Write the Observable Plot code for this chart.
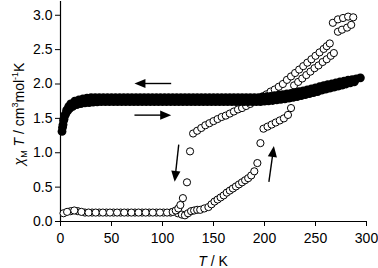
<!DOCTYPE html>
<html>
<head>
<meta charset="utf-8">
<script src="https://cdn.jsdelivr.net/npm/d3@7"></script>
<script src="https://cdn.jsdelivr.net/npm/@observablehq/plot@0.6"></script>
<style>
  html, body { margin: 0; padding: 0; background: #fff; }
  #chart svg { display: block; }
</style>
</head>
<body>
<div id="chart"></div>
<script>
// Axis ticks
const xTicks = [0, 50, 100, 150, 200, 250, 300];
const yTicks = [0, 0.5, 1.0, 1.5, 2.0, 2.5, 3.0];

// Filled circles (cooling run)
const coolFilledT = [2,3,4,6,8,10,14,18,22,26,30,34,38,42,46,50,54,58,62,66,70,74,78,82,86,90,94,98,102,106,110,114,118,122,126,130,134,138,142,146,150,154,158,162,166,170,174,178,182,186,190,194,198,202,206,210,214,218,222,226,230,234,238,242,246,250,254,258,262,266,270,274,278,282,286,290,294];
const coolFilledV = [1.37,1.47,1.54,1.62,1.67,1.71,1.75,1.77,1.785,1.795,1.80,
  1.80,1.80,1.80,1.80,1.80,1.80,1.80,1.80,1.80,1.80,1.80,1.80,1.80,1.80,1.80,1.80,1.80,1.80,1.80,1.80,1.80,1.80,1.80,1.80,1.80,1.80,1.80,1.80,1.80,1.80,1.80,1.80,1.80,1.80,1.80,1.80,1.80,1.80,1.80,1.80,1.80,
  1.81,1.815,1.82,1.83,1.84,1.845,1.855,1.865,1.875,1.89,1.90,1.915,1.93,1.945,1.96,1.975,1.99,2.00,2.015,2.03,2.04,2.055,2.065,2.075,2.09];

// Filled circles (heating run)
const heatFilledT = [1.5,2.5,3.5,5,7,9,12,16,20,24,28,32,36,40,44,48,52,56,60,64,68,72,76,80,84,88,92,96,100,104,108,112,116,120,124,128,132,136,140,144,148,152,156,160,164,168,172,176,180,184,188,192,196,200,204,208,212,216,220,224,228,232,236,240,244,248,252,256,260,264,268,272,276,280,284,288];
const heatFilledV = [1.31,1.41,1.49,1.56,1.61,1.645,1.675,1.70,1.715,1.725,1.73,1.735,1.74,
  1.745,1.745,1.745,1.745,1.745,1.745,1.745,1.745,1.745,1.745,1.745,1.745,1.745,1.745,1.745,1.745,1.745,1.745,1.745,1.745,1.745,1.745,1.745,1.745,1.745,1.745,1.745,1.745,1.745,1.745,1.745,1.745,1.745,1.745,1.745,1.745,1.745,1.745,1.745,1.745,
  1.75,1.755,1.76,1.77,1.775,1.785,1.795,1.805,1.815,1.83,1.845,1.86,1.875,1.89,1.91,1.925,1.94,1.955,1.97,1.985,2.00,2.015,2.03];

// Open circles (heating run)
const heatOpenT = [3,10,17,24,31,38,45,52,59,66,73,80,87,94,101,108,115,119,122,125,128,131,134,137,141,145,148,151,154,157,160,163,166,169,172,175,178,181,184,187,190,193,196,199,203,207,211,215,219,223,226,229,233,237,241,245,249,253,257,261,265,268,272,276,281,285];
const heatOpenV = [0.12,0.15,0.15,0.13,0.13,0.13,0.13,0.13,0.13,0.13,0.13,0.13,0.13,0.13,0.13,0.13,0.12,0.10,0.09,0.12,0.15,0.16,0.17,0.17,0.19,0.21,0.25,0.29,0.32,0.35,0.38,0.42,0.45,0.48,0.51,0.54,0.57,0.60,0.63,0.67,0.73,0.85,1.14,1.35,1.38,1.41,1.44,1.47,1.50,1.55,1.65,1.98,2.03,2.08,2.13,2.18,2.23,2.27,2.32,2.36,2.41,2.45,2.76,2.79,2.82,2.86];

// Open circles (cooling run)
const coolOpenT = [6.5,13.5,20.5,27.5,34.5,41.5,48.5,55.5,62.5,69.5,76.5,83.5,90.5,97.5,104.5,110,113,115.5,117.5,120,124,127,130,134,138,142,146,150,154,158,162,166,170,174,178,182,186,190,194,198,202,206,210,214,218,222,226,230,234,238,242,246,250,254,258,261,264,267,272,277,282,287];
const coolOpenV = [0.14,0.16,0.14,0.13,0.13,0.13,0.13,0.13,0.13,0.13,0.13,0.13,0.13,0.13,0.13,0.14,0.16,0.19,0.24,0.34,0.57,1.02,1.28,1.32,1.36,1.40,1.43,1.46,1.49,1.52,1.54,1.57,1.60,1.63,1.65,1.68,1.71,1.75,1.78,1.82,1.85,1.89,1.92,1.96,2.00,2.06,2.11,2.16,2.21,2.26,2.31,2.36,2.41,2.46,2.51,2.55,2.59,2.89,2.94,2.96,2.98,2.97];

// Arrows (data coordinates: tail -> head)
const arrowX1 = [109, 73, 116.4, 204.8];
const arrowY1 = [2.0, 1.54, 1.11, 0.57];
const arrowX2 = [73, 109, 112.4, 209.7];
const arrowY2 = [2.0, 1.54, 0.57, 1.09];

const pts = (T, V) => T.map((t, i) => ({T: t, V: V[i]}));
const heatOpen = pts(heatOpenT, heatOpenV);
const coolOpen = pts(coolOpenT, coolOpenV);
const heatFilled = pts(heatFilledT, heatFilledV);
const coolFilled = pts(coolFilledT, coolFilledV);
const arrows = arrowX1.map((x, i) => ({x1: x, y1: arrowY1[i], x2: arrowX2[i], y2: arrowY2[i]}));

const FONT = "'Liberation Sans', Arial, sans-serif";

function arrowMark(index, scales) {
  const g = d3.create("svg:g");
  const L = 11, W = 4.6;
  for (const a of arrows) {
    const x1 = scales.x(a.x1), y1 = scales.y(a.y1);
    const x2 = scales.x(a.x2), y2 = scales.y(a.y2);
    const dx = x2 - x1, dy = y2 - y1, len = Math.hypot(dx, dy);
    const ux = dx / len, uy = dy / len;
    const bx = x2 - ux * L, by = y2 - uy * L;
    g.append("line").attr("x1", x1).attr("y1", y1).attr("x2", bx + ux).attr("y2", by + uy)
      .attr("stroke", "black").attr("stroke-width", 1.4);
    g.append("polygon")
      .attr("points", `${x2},${y2} ${bx - uy * W},${by + ux * W} ${bx + uy * W},${by - ux * W}`)
      .attr("fill", "black");
  }
  return g.node();
}

function labelMark(index, scales, values, dims) {
  const g = d3.create("svg:g").attr("font-family", FONT).attr("fill", "black");
  const cx = (scales.x(0) + scales.x(300)) / 2;
  const xl = g.append("text").attr("x", cx).attr("y", 266).attr("text-anchor", "middle").attr("font-size", 14);
  xl.append("tspan").attr("font-style", "italic").text("T");
  xl.append("tspan").text(" / K");

  const yl = g.append("text").attr("transform", "translate(24,114) rotate(-90)")
    .attr("text-anchor", "middle").attr("font-size", 14);
  yl.append("tspan").attr("font-style", "italic").text("χ");
  yl.append("tspan").attr("font-size", 9).attr("dy", 3).text("M");
  yl.append("tspan").attr("dy", -3).text(" ");
  yl.append("tspan").attr("font-style", "italic").text("T");
  yl.append("tspan").text(" / cm");
  yl.append("tspan").attr("font-size", 9).attr("dy", -6).text("3");
  yl.append("tspan").attr("dy", 6).text("mol");
  yl.append("tspan").attr("font-size", 9).attr("dy", -6).text("-1");
  yl.append("tspan").attr("dy", 6).text("K");
  return g.node();
}

const chart = Plot.plot({
  width: 378,
  height: 268,
  marginLeft: 60,
  marginRight: 12,
  marginTop: 1,
  marginBottom: 47,
  style: {fontFamily: FONT, fontSize: "14px", background: "white", color: "black"},
  x: {domain: [0, 300]},
  y: {domain: [0, 3.2]},
  marks: [
    Plot.axisX({ticks: xTicks, tickSize: 5, tickPadding: 7, label: null, fontSize: 14}),
    Plot.axisY({ticks: yTicks, tickSize: 5, tickPadding: 3, tickFormat: d3.format(".1f"), label: null, fontSize: 14}),
    Plot.ruleX([0], {stroke: "black", strokeWidth: 1.2}),
    Plot.ruleY([0], {stroke: "black", strokeWidth: 1.2}),
    Plot.dot(heatOpen, {x: "T", y: "V", r: 3.6, fill: "white", stroke: "black", strokeWidth: 1}),
    Plot.dot(coolOpen, {x: "T", y: "V", r: 3.6, fill: "white", stroke: "black", strokeWidth: 1}),
    Plot.dot(heatFilled, {x: "T", y: "V", r: 4.4, fill: "black", stroke: "none"}),
    Plot.dot(coolFilled, {x: "T", y: "V", r: 4.4, fill: "black", stroke: "none"}),
    arrowMark,
    labelMark
  ]
});
document.getElementById("chart").appendChild(chart);
</script>
</body>
</html>
